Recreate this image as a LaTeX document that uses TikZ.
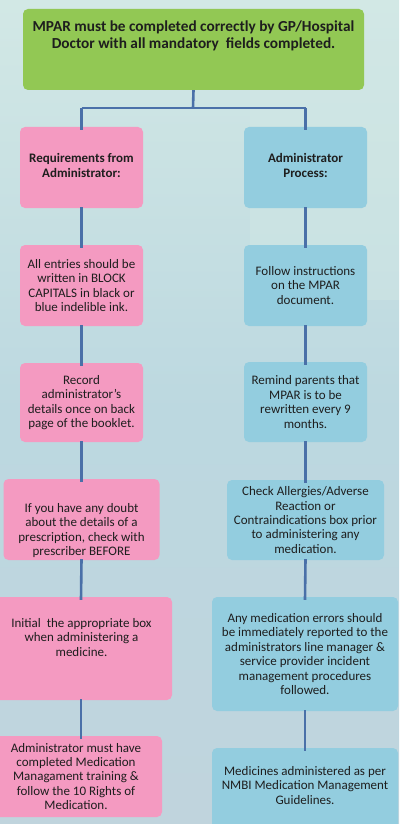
\documentclass[tikz,border=0pt]{standalone}
\usepackage{fontspec}
\setmainfont{Carlito}
\definecolor{bgA}{HTML}{BCD8E0}
\definecolor{bgB}{HTML}{D2E8E5}
\definecolor{bgC}{HTML}{C0D4DD}
\definecolor{greenbox}{HTML}{92C854}
\definecolor{pinkbox}{HTML}{F49AC1}
\definecolor{bluebox}{HTML}{93CDDF}
\definecolor{linkc}{HTML}{4A70A8}
\definecolor{txtc}{HTML}{1E1E1E}
\begin{document}
\begin{tikzpicture}[x=1pt,y=-1pt,
  box/.style={rounded corners=5pt, inner sep=0pt, text=txtc, align=center, font=\fontsize{13}{14.4}\selectfont},
  pinkb/.style={box, fill=pinkbox},
  blueb/.style={box, fill=bluebox},
  greenb/.style={box, fill=greenbox},
  body/.style={font=\fontsize{13}{14.4}\selectfont, text=txtc, align=center, inner sep=0pt},
  head/.style={font=\bfseries\fontsize{13}{15}\selectfont, text=txtc, align=center, inner sep=0pt},
  link/.style={draw=linkc, line width=2.6pt}
]
\useasboundingbox (0,0) rectangle (399,824);
\shade[top color=bgB, bottom color=bgC, middle color=bgA] (0,0) rectangle (399,824);
\fill[bgB, opacity=0.45] (250,0) rectangle (399,300);

% top box
\node[greenb, minimum width=341pt, minimum height=81pt] (top) at (193.5,49.5) {};
\node[font=\bfseries\fontsize{15.3}{17}\selectfont, text=txtc, align=center, inner sep=0pt] (toptxt) at (193.5,36)
 {MPAR must be completed correctly by GP/Hospital\\Doctor with all mandatory\ \ fields completed.};

% headers
\node[pinkb, minimum width=123pt, minimum height=81pt] (L1) at (81.5,167.5) {};
\node[head] at (81.5,165.5) {Requirements from\\Administrator:};
\node[blueb, minimum width=123pt, minimum height=81pt] (R1) at (305.5,167.5) {};
\node[head] at (305.5,165.5) {Administrator\\Process:};

% row 2
\node[pinkb, minimum width=123pt, minimum height=81pt] (L2) at (81.5,285.5)
 {All entries should be\\written in BLOCK\\CAPITALS in black or\\blue indelible ink.};
\node[blueb, minimum width=123pt, minimum height=81pt] (R2) at (305.5,285.5)
 {Follow instructions\\on the MPAR\\document.};

% row 3
\node[pinkb, minimum width=123pt, minimum height=79pt] (L3) at (81.5,402.5)
 {Record\\administrator’s\\details once on back\\page of the booklet.};
\node[blueb, minimum width=123pt, minimum height=80pt] (R3) at (305.5,402)
 {Remind parents that\\MPAR is to be\\rewritten every 9\\months.};

% row 4
\node[pinkb, minimum width=156pt, minimum height=81pt] (L4) at (81.5,519.5) {};
\node[body] at (81.5,530.5) {If you have any doubt\\about the details of a\\prescription, check with\\prescriber BEFORE};
\node[blueb, minimum width=157pt, minimum height=80pt] (R4) at (305.5,520)
 {Check Allergies/Adverse\\Reaction or\\Contraindications box prior\\to administering any\\medication.};

% row 5
\node[pinkb, minimum width=182pt, minimum height=103pt] (L5) at (81,648.5) {};
\node[body] at (81.5,637.5) {Initial\ \ the appropriate box\\when administering a\\medicine.};
\node[blueb, minimum width=186pt, minimum height=114pt] (R5) at (305,654)
 {Any medication errors should\\be immediately reported to the\\administrators line manager \&\\service provider incident\\management procedures\\followed.};

% row 6
\node[pinkb, minimum width=172pt, minimum height=81pt] (L6) at (76,776.5)
 {Administrator must have\\completed Medication\\Managament training \&\\follow the 10 Rights of\\Medication.};
\node[blueb, minimum width=186pt, minimum height=82pt] (R6) at (305,789) {};
\node[body] at (305,785.5) {Medicines administered as per\\NMBI Medication Management\\Guidelines.};

% connectors
\coordinate (jn) at (193,108);
\draw[link] (top.south) -- (jn);
\draw[link] (L1.north |- jn) -- (R1.north |- jn);
\draw[link] (L1.north |- jn) -- ([yshift=-3pt]L1.north);
\draw[link] (R1.north |- jn) -- ([yshift=-3pt]R1.north);
\draw[link] ([yshift=1pt]L1.south) -- ([yshift=-3pt]L2.north);
\draw[link] ([yshift=1pt]R1.south) -- ([yshift=-3pt]R2.north);
\draw[link] ([yshift=1pt]L2.south) -- ([yshift=-3pt]L3.north);
\draw[link] ([yshift=1pt]R2.south) -- ([yshift=-3pt]R3.north);
\draw[link] ([yshift=1pt]L3.south) -- ([yshift=-3pt]L4.north);
\draw[link] ([yshift=1pt]R3.south) -- ([yshift=-3pt]R4.north);
\draw[link] ([yshift=1pt]L4.south) -- ([yshift=-3pt]L5.north);
\draw[link] ([yshift=1pt]R4.south) -- ([yshift=-3pt]R5.north);
\draw[link] ([yshift=1pt]L5.south) -- ([yshift=-3pt]L5.south |- L6.north);
\draw[link] ([yshift=1pt]R5.south) -- ([yshift=-3pt]R6.north);
\end{tikzpicture}
\end{document}
